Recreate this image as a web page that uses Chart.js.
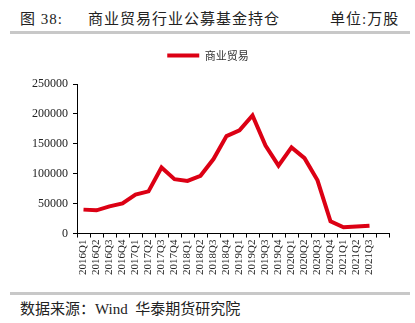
<!DOCTYPE html>
<html>
<head>
<meta charset="utf-8">
<script src="https://cdn.jsdelivr.net/npm/chart.js@4/dist/chart.umd.min.js"></script>
<style>
    body { margin: 0; width: 415px; height: 323px; background: #fff; position: relative; overflow: hidden;
           font-family: "Liberation Serif", "Noto Sans CJK SC", serif; color: #222; }
    .title { position: absolute; top: 7px; font-size: 15px; letter-spacing: 1px; }
    .rule { position: absolute; left: 10px; width: 400px; height: 3px; background: #c8c8c8; }
    .source { position: absolute; left: 20px; top: 297px; font-size: 15px; }
    #box { position: absolute; left: 0; top: 40px; width: 415px; height: 245px; }
</style>
</head>
<body>
<div class="title" style="left:20px">图 38:</div>
<div class="title" style="left:88px">商业贸易行业公募基金持仓</div>
<div class="title" style="left:330px">单位:万股</div>
<div class="rule" style="top:31px"></div>
<div id="box"><canvas id="graph-line"></canvas></div>
<div class="rule" style="top:292px"></div>
<div class="source">数据来源：Wind&nbsp; 华泰期货研究院</div>
<script>
var quarters = ['2016Q1', '2016Q2', '2016Q3', '2016Q4', '2017Q1', '2017Q2', '2017Q3', '2017Q4',
    '2018Q1', '2018Q2', '2018Q3', '2018Q4', '2019Q1', '2019Q2', '2019Q3', '2019Q4',
    '2020Q1', '2020Q2', '2020Q3', '2020Q4', '2021Q1', '2021Q2', '2021Q3', ''];
var holdings = [40000, 38800, 45500, 50500, 65000, 70500, 110500, 91000,
    88000, 96500, 124500, 163000, 172500, 197500, 147000, 113500,
    144000, 126000, 89000, 20500, 10500, 11800, 13200];
var yTicks = [0, 50000, 100000, 150000, 200000, 250000];
var seriesName = '商业贸易';

createGraphLine();

function createGraphLine() {
    var ctx = document.getElementById('graph-line').getContext('2d');
    var red = '#dc0014';

    // push the plot down a bit below the legend
    var legendGap = {
        id: 'legendGap',
        beforeInit: function (chart) {
            var fit = chart.legend.fit;
            chart.legend.fit = function () {
                fit.bind(chart.legend)();
                this.height += 13;
            };
        }
    };

    var data = {
        labels: quarters,
        datasets: [{
            label: seriesName,
            data: holdings,
            borderColor: red,
            backgroundColor: red,
            borderWidth: 4,
            pointRadius: 0,
            tension: 0
        }]
    };

    var options = {
        responsive: true,
        maintainAspectRatio: false,
        animation: false,
        layout: { padding: { left: 27, right: 26, top: 0, bottom: 8 } },
        plugins: {
            legend: {
                labels: {
                    boxWidth: 32,
                    boxHeight: 4,
                    padding: 10,
                    color: '#333',
                    font: { family: 'Noto Sans CJK SC', size: 11 },
                    generateLabels: function (chart) {
                        var items = Chart.defaults.plugins.legend.labels.generateLabels(chart);
                        items.forEach(function (it) { it.lineWidth = 0; });
                        return items;
                    }
                }
            },
            tooltip: { enabled: false }
        },
        scales: {
            x: {
                offset: true,
                grid: { offset: true, drawOnChartArea: false, drawTicks: true, tickLength: 4, color: '#000' },
                border: { color: '#000' },
                ticks: {
                    autoSkip: false, minRotation: 90, maxRotation: 90, padding: 2,
                    color: '#222', font: { family: 'Liberation Serif', size: 11 }
                }
            },
            y: {
                min: 0,
                max: 250000,
                afterBuildTicks: function (scale) {
                    scale.ticks = yTicks.map(function (v) { return { value: v }; });
                },
                grid: { drawOnChartArea: false, drawTicks: true, tickLength: 4, color: '#000' },
                border: { color: '#000' },
                ticks: {
                    padding: 5,
                    color: '#222', font: { family: 'Liberation Serif', size: 12 },
                    callback: function (v) { return String(v); }
                }
            }
        }
    };

    var chart = new Chart(ctx, {
        type: 'line',
        data: data,
        options: options,
        plugins: [legendGap]
    });
}
</script>
</body>
</html>
